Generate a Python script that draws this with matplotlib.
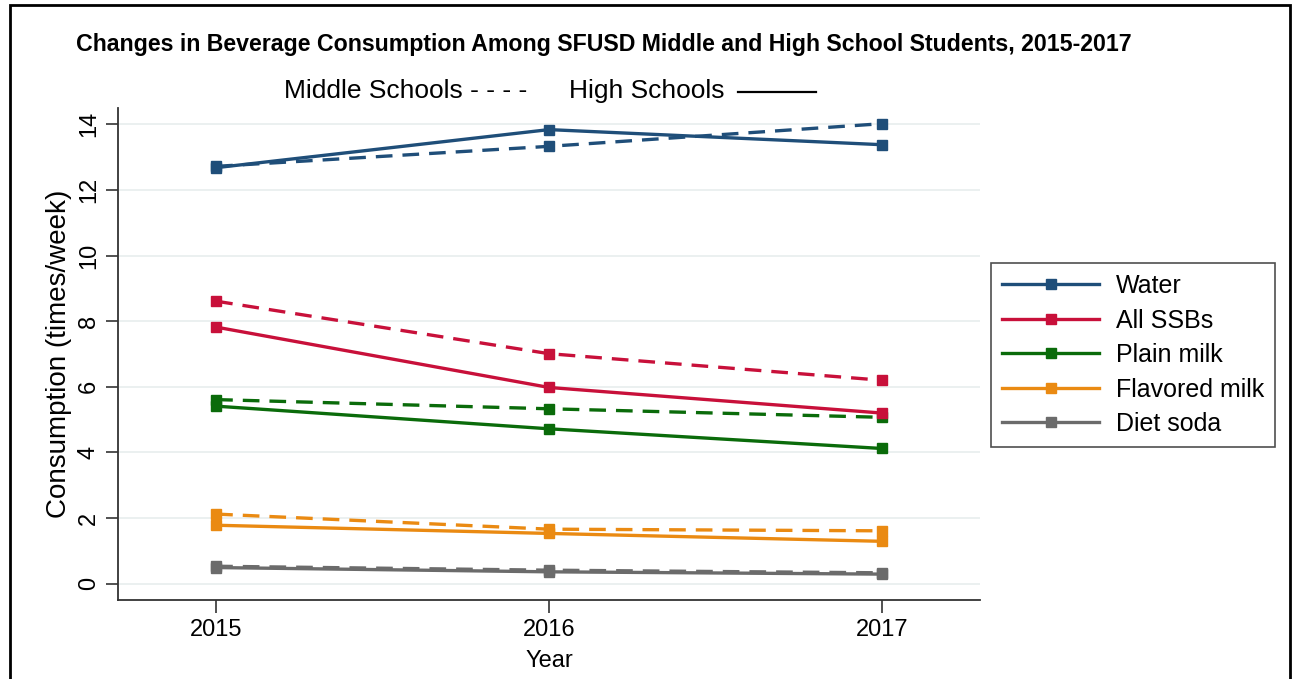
import matplotlib.pyplot as plt
from matplotlib.patches import Rectangle
from matplotlib.lines import Line2D

years = [2015, 2016, 2017]
beverages = ["Water", "All SSBs", "Plain milk", "Flavored milk", "Diet soda"]
colors = ["#1f4e79", "#c8103a", "#0a6b0a", "#ea8a12", "#6b6b6b"]

# high schools (solid)
high_water = [12.68, 13.84, 13.38]
high_ssb = [7.82, 5.98, 5.20]
high_plain = [5.41, 4.72, 4.12]
high_flav = [1.78, 1.53, 1.29]
high_diet = [0.49, 0.36, 0.29]

# middle schools (dashed)
mid_water = [12.72, 13.33, 14.02]
mid_ssb = [8.61, 7.01, 6.20]
mid_plain = [5.61, 5.33, 5.07]
mid_flav = [2.12, 1.66, 1.61]
mid_diet = [0.53, 0.41, 0.33]

high = [high_water, high_ssb, high_plain, high_flav, high_diet]
mid = [mid_water, mid_ssb, mid_plain, mid_flav, mid_diet]

plt.rcParams["font.family"] = ["Liberation Sans", "DejaVu Sans"]

fig = plt.figure(figsize=(12.99, 6.79), dpi=100)
ax = fig.add_axes([0.0908, 0.1163, 0.6636, 0.7247])

for name, col, h, m in zip(beverages, colors, high, mid):
    ax.plot(years, m, color=col, linewidth=2.4, linestyle=(0, (5, 3)),
            marker="s", markersize=6.5, zorder=3)
    ax.plot(years, h, color=col, linewidth=2.4, marker="s", markersize=6.5,
            label=name, zorder=4)

ax.set_xlim(2014.705, 2017.295)
ax.set_ylim(-0.5, 14.5)
ax.set_xticks(years)
ax.set_xticklabels([str(y) for y in years], fontsize=17)
ax.set_yticks(range(0, 15, 2))
ax.set_yticklabels([str(v) for v in range(0, 15, 2)], fontsize=17,
                   rotation=90, va="center")
ax.tick_params(axis="both", direction="out", length=9, width=1.2, color="#333333")
ax.tick_params(axis="x", pad=5)
ax.tick_params(axis="y", pad=4)
ax.grid(axis="y", color="#e8eeee", linewidth=1.2)
ax.set_axisbelow(True)
for s in ["top", "right"]:
    ax.spines[s].set_visible(False)
for s in ["left", "bottom"]:
    ax.spines[s].set_linewidth(1.3)
    ax.spines[s].set_color("#333333")

ax.set_ylabel("Consumption (times/week)", fontsize=20, labelpad=4)
ax.set_xlabel("Year", fontsize=17, labelpad=6)

leg = fig.legend(loc="upper left", bbox_to_anchor=(0.763, 0.613),
                 fontsize=18, frameon=True, fancybox=False,
                 handlelength=3.85, handletextpad=0.68, labelspacing=0.42,
                 borderpad=0.45, borderaxespad=0)
leg.get_frame().set_edgecolor("#222222")
leg.get_frame().set_linewidth(1.2)

fig.text(0.0585, 0.935,
         "Changes in Beverage Consumption Among SFUSD Middle and High School Students, 2015-2017",
         fontsize=16.7, fontweight="bold", va="center", ha="left")
fig.text(0.219, 0.866, "Middle Schools - - - -", fontsize=19, va="center", ha="left")
fig.text(0.438, 0.866, "High Schools", fontsize=19, va="center", ha="left")
fig.add_artist(Line2D([0.568, 0.628], [0.864, 0.864], color="black",
                      linewidth=1.6, transform=fig.transFigure))

fig.add_artist(Rectangle((0.0077, -0.05), 0.9855, 1.042, fill=False,
                         edgecolor="black", linewidth=2,
                         transform=fig.transFigure, clip_on=False))

fig.savefig("out.png", dpi=100)
